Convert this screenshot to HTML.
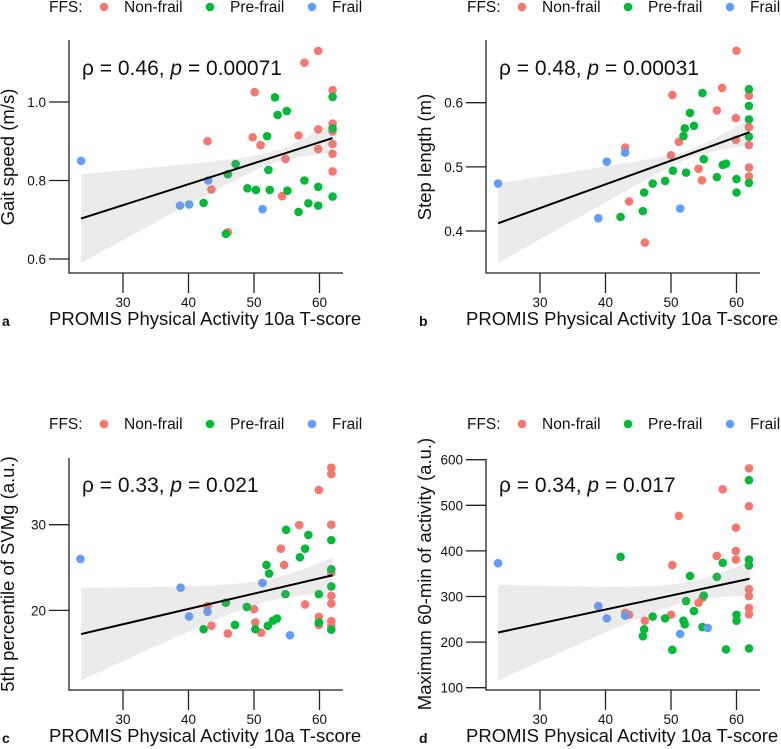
<!DOCTYPE html>
<html><head><meta charset="utf-8">
<style>
html,body{margin:0;padding:0;background:#fff;}
svg{display:block;font-family:"Liberation Sans",sans-serif;}
</style></head>
<body>
<svg id="chart" width="781" height="749" viewBox="0 0 781 749"></svg>
<script>
// ---- Data ----
const xTicks = [30, 40, 50, 60];
const gaitTicks = [0.6, 0.8, 1.0];
const stepTicks = [0.4, 0.5, 0.6];
const svmTicks = [20, 30];
const actTicks = [100, 200, 300, 400, 500, 600];

const gaitNonFrail = [[59.8,1.13],[57.7,1.10],[50.1,1.025],[62,1.03],[42.9,0.90],[49.8,0.91],[51,0.89],[56.8,0.915],[59.8,0.93],[62,0.945],[62,0.925],[62,0.893],[59.8,0.88],[62,0.868],[54.8,0.855],[62,0.823],[43.5,0.777],[54.3,0.76],[46,0.668]];
const gaitPreFrail = [[53.2,1.012],[62,1.013],[55,0.977],[53.6,0.967],[52,0.913],[62,0.933],[47.2,0.842],[46,0.816],[52.2,0.827],[49,0.78],[50.3,0.776],[52.4,0.776],[55.1,0.774],[57.7,0.80],[59.8,0.784],[62,0.759],[58.3,0.742],[59.8,0.736],[56.8,0.72],[42.3,0.743],[45.7,0.664]];
const gaitFrail = [[23.6,0.85],[43,0.80],[38.7,0.736],[40.1,0.739],[51.3,0.727]];

const stepNonFrail = [[60,0.681],[57.8,0.623],[50.2,0.612],[61.9,0.611],[57,0.588],[59.9,0.576],[61.9,0.562],[51.2,0.539],[59.9,0.542],[61.9,0.534],[50,0.518],[43,0.53],[54.2,0.497],[54.7,0.479],[61.9,0.499],[61.9,0.485],[43.6,0.446],[46,0.382]];
const stepPreFrail = [[61.9,0.621],[54.8,0.615],[61.9,0.595],[52.9,0.584],[53.5,0.564],[52.1,0.56],[51.9,0.548],[61.9,0.574],[61.9,0.547],[55,0.512],[57.9,0.503],[58.4,0.505],[50.3,0.494],[52.3,0.491],[57,0.484],[60,0.481],[61.9,0.475],[49.1,0.478],[47.2,0.474],[45.9,0.46],[60,0.46],[45.7,0.431],[42.3,0.422]];
const stepFrail = [[23.6,0.474],[40.2,0.508],[43,0.522],[38.9,0.42],[51.4,0.435]];

const svmNonFrail = [[61.8,36.65],[61.8,35.9],[59.9,34.05],[56.9,29.96],[61.8,30],[54.1,27.2],[54.6,25.3],[61.8,24.4],[61.8,21.7],[61.8,20.8],[57.8,20.7],[50,20.15],[42.9,20.5],[50.2,18.6],[59.9,19.25],[59.9,18.3],[61.8,18.75],[61.8,18.2],[43.5,18.2],[46,17.3],[51.1,17.4]];
const svmPreFrail = [[54.9,29.4],[58.3,28.8],[61.8,28.2],[57.8,27.2],[57,26.2],[51.9,25.3],[52.3,24.3],[61.8,24.8],[61.8,22.8],[54.8,21.9],[59.9,21.9],[45.7,20.9],[48.9,20.4],[59.9,18.6],[61.8,17.75],[42.3,17.8],[47.1,18.3],[50.2,17.8],[52.1,18.2],[52.9,18.8],[53.5,19.05]];
const svmFrail = [[23.5,26],[38.8,22.65],[51.3,23.2],[40.1,19.3],[42.9,19.85],[55.5,17.1]];

const actNonFrail = [[61.9,581],[57.9,535],[61.9,498],[51.2,477],[59.9,451],[59.9,400],[59.9,381],[57,389],[50.2,369],[61.9,316],[61.9,301],[61.9,275],[61.9,261],[54.8,297],[54.2,286],[50,260],[43,264],[43.6,260],[46,247]];
const actPreFrail = [[61.9,555],[61.9,381],[61.9,368],[57.9,374],[57,343],[52.9,345],[42.3,387],[55,302],[52.3,290],[53.5,268],[47.2,256],[49.1,252],[51.9,247],[52.1,239],[54.8,233],[45.9,228],[45.7,213],[60,260],[60,247],[50.2,183],[58.4,184],[61.9,186]];
const actFrail = [[23.6,373],[38.9,279],[40.2,252],[43,258],[51.4,218],[55.6,231]];

// regression fits: [x0, y0, x1, y1], CI half-widths at ends
const gaitFit = [23.6, 0.703, 62, 0.908]; const gaitCI = [0.113, 0.0375];
const stepFit = [23.6, 0.412, 62, 0.554]; const stepCI = [0.062, 0.02];
const svmFit = [23.6, 17.24, 62, 24.1]; const svmCI = [5.4, 2.05];
const actFit = [23.6, 221, 62, 339]; const actCI = [105, 38];

const colors = {non:'#F8766D', pre:'#00BA38', frail:'#619CFF'};
const svg = document.getElementById('chart');
const NS = 'http://www.w3.org/2000/svg';
function mk(tag, attrs, parent){
  const e = document.createElementNS(NS, tag);
  for (const k in attrs) e.setAttribute(k, attrs[k]);
  (parent||svg).appendChild(e); return e;
}
function txt(s, attrs, parent){ const t = mk('text', attrs, parent); t.textContent = s; return t; }

function panel(p){
  const g = mk('g', {});
  
  
  const xL = p.ox, yB = p.oy;
  const xs = v => p.x30 + (v - 30) * 6.55;
  const ys = v => p.yPix0 - (v - p.yVal0) * p.yScale;
  // legend
  const lg = mk('g', {}, g);
  
  
  const lx = p.legX, ly = p.legY;
  txt('FFS:', {x: lx, y: ly, 'font-size': 15.5, fill: '#111'}, lg);
  const ents = [['Non-frail', colors.non, 55, 75], ['Pre-frail', colors.pre, 161, 181], ['Frail', colors.frail, 263, 283]];
  ents.forEach(e => {
    const c = mk('circle', {cx: lx + e[2], cy: ly - 5, r: 4.3, fill: e[1]}, lg);
    
    
    const t = txt(e[0], {x: lx + e[3], y: ly, 'font-size': 15.5, fill: '#111'}, lg);
    
    
  });
  // points
  [[p.non, colors.non], [p.pre, colors.pre], [p.frail, colors.frail]].forEach(([arr, col]) => {
    arr.forEach(d => {
      const c = mk('circle', {cx: xs(d[0]), cy: ys(d[1]), r: 4.3, fill: col}, g);
      
      
    });
  });
  // confidence band
  const f = p.fit, ci = p.ci, xm = 53;
  const d0 = (f[0]-xm)**2, d1 = (f[2]-xm)**2;
  const k = (ci[0]**2 - ci[1]**2) / (d0 - d1);
  const s0 = Math.max(ci[1]**2 - k*d1, 0);
  const lin = x => f[1] + (x - f[0]) * (f[3]-f[1]) / (f[2]-f[0]);
  const hw = x => Math.sqrt(s0 + k*(x-xm)**2);
  let up = [], lo = [];
  for (let i = 0; i <= 60; i++){
    const x = f[0] + (f[2]-f[0]) * i / 60;
    up.push(xs(x).toFixed(1)+','+ys(lin(x)+hw(x)).toFixed(1));
    lo.push(xs(x).toFixed(1)+','+ys(lin(x)-hw(x)).toFixed(1));
  }
  const band = mk('polygon', {points: up.concat(lo.reverse()).join(' '), fill: 'rgb(153,153,153)', 'fill-opacity': 0.2}, g);
  
  
  const ln = mk('line', {x1: xs(f[0]), y1: ys(f[1]), x2: xs(f[2]), y2: ys(f[3]), stroke: '#000', 'stroke-width': 2}, g);
  
  
  // axes
  const ax = mk('path', {d: `M${xL},${p.top} V${yB} H${xL+274}`, stroke: '#222', 'stroke-width': 1.3, fill: 'none'}, g);
  
  
  xTicks.forEach(v => {
    mk('line', {x1: xs(v), x2: xs(v), y1: yB, y2: yB+20, stroke: '#222', 'stroke-width': 1.3}, g);
    const t = txt(String(v), {x: xs(v), y: yB+34, 'font-size': 13.5, 'text-anchor': 'middle', fill: '#111'}, g);
    
    
  });
  p.yTicks.forEach(v => {
    mk('line', {x1: xL-20, x2: xL, y1: ys(v), y2: ys(v), stroke: '#222', 'stroke-width': 1.3}, g);
    const t = txt(p.fmt(v), {x: xL-23, y: ys(v)+5, 'font-size': 13.5, 'text-anchor': 'end', fill: '#111'}, g);
    
    
  });
  const xt = txt('PROMIS Physical Activity 10a T-score', {x: xL-20, y: yB+52, 'font-size': 18.5, fill: '#111'}, g);
  
  
  const pl = txt(p.letter, {x: xL-67, y: yB+53, 'font-size': 14, 'font-weight': 'bold', fill: '#111'}, g);
  
  
  const yt = txt(p.ytitle, {x: 0, y: 0, 'font-size': 18.5, 'text-anchor': 'middle', fill: '#111', transform: `translate(${xL-55},${p.ytY}) rotate(-90)`}, g);
  
  
  const an = mk('text', {x: xL+13, y: p.annY, 'font-size': 21, fill: '#111'}, g);
  an.innerHTML = `ρ = ${p.rho}, <tspan font-style="italic">p</tspan> = ${p.pval}`;
  
  
}

panel({name:'panel-a-gait-speed', ox:69, oy:273, top:40, x30:123, yPix0:102, yVal0:1.0, yScale:392.5,
  yTicks:gaitTicks, fmt:v=>v.toFixed(1), non:gaitNonFrail, pre:gaitPreFrail, frail:gaitFrail,
  fit:gaitFit, ci:gaitCI, legX:49, legY:12, letter:'a', ytitle:'Gait speed (m/s)', ytY:157, annY:75, rho:'0.46', pval:'0.00071'});
panel({name:'panel-b-step-length', ox:486, oy:273, top:40, x30:540, yPix0:102.7, yVal0:0.6, yScale:641.5,
  yTicks:stepTicks, fmt:v=>v.toFixed(1), non:stepNonFrail, pre:stepPreFrail, frail:stepFrail,
  fit:stepFit, ci:stepCI, legX:467, legY:12, letter:'b', ytitle:'Step length (m)', ytY:157, annY:75, rho:'0.48', pval:'0.00031'});
panel({name:'panel-c-svmg', ox:69, oy:690, top:458, x30:123, yPix0:524.7, yVal0:30, yScale:8.57,
  yTicks:svmTicks, fmt:v=>String(v), non:svmNonFrail, pre:svmPreFrail, frail:svmFrail,
  fit:svmFit, ci:svmCI, legX:49, legY:429, letter:'c', ytitle:'5th percentile of SVMg (a.u.)', ytY:574, annY:492, rho:'0.33', pval:'0.021'});
panel({name:'panel-d-max-activity', ox:486, oy:690, top:459, x30:540, yPix0:459.7, yVal0:600, yScale:0.456,
  yTicks:actTicks, fmt:v=>String(v), non:actNonFrail, pre:actPreFrail, frail:actFrail,
  fit:actFit, ci:actCI, legX:467, legY:429, letter:'d', ytitle:'Maximum 60-min of activity (a.u.)', ytY:574, annY:492, rho:'0.34', pval:'0.017'});
</script>
</body></html>
